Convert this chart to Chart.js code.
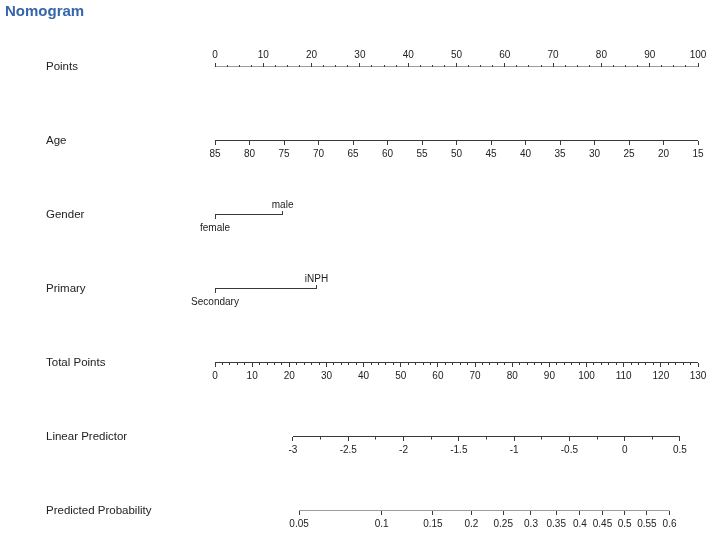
<!DOCTYPE html>
<html>
<head>
<meta charset="utf-8">
<script src="https://cdn.jsdelivr.net/npm/chart.js@4.4.1/dist/chart.umd.min.js"></script>
<style>
  body { margin: 0; background: #fff; }
  #wrap { position: relative; width: 714px; height: 534px; }
  #title { position: absolute; left: 5px; top: 2px; font: bold 15px "Liberation Sans", Arial, sans-serif; color: #3565aa; }
</style>
</head>
<body>
<div id="wrap">
  <canvas id="nomo"></canvas>
  <div id="title">Nomogram</div>
</div>
<script>
// rows of the nomogram, top to bottom
const rowNames = ['Points', 'Age', 'Gender', 'Primary', 'Total Points', 'Linear Predictor', 'Predicted Probability'];

// scale ticks
const pointTicks = [0, 10, 20, 30, 40, 50, 60, 70, 80, 90, 100];
const ageTicks = [85, 80, 75, 70, 65, 60, 55, 50, 45, 40, 35, 30, 25, 20, 15];
const totalTicks = [0, 10, 20, 30, 40, 50, 60, 70, 80, 90, 100, 110, 120, 130];
const lpTicks = [-3, -2.5, -2, -1.5, -1, -0.5, 0, 0.5];
const probTicks = [0.05, 0.1, 0.15, 0.2, 0.25, 0.3, 0.35, 0.4, 0.45, 0.5, 0.55, 0.6];

// categorical predictors: level names and their points
const genderLevels = ['female', 'male'];
const genderPoints = [0, 14];
const primaryLevels = ['Secondary', 'iNPH'];
const primaryPoints = [0, 21];

// total points -> linear predictor
const lpIntercept = -3.705;
const lpPerPoint = 0.0336;

const FONT = '"Liberation Sans", Arial, sans-serif';
const INK = '#3a3a3a';
const TXT = '#222';

const logit = p => Math.log(p / (1 - p));

// an axis drawn at one row, ticks given explicitly
function rowAxis(row, min, max, values, labels, tickLen, pad, extra) {
  return Object.assign({
    type: 'linear', axis: 'x', position: { y: row }, min: min, max: max,
    afterBuildTicks: s => { s.ticks = values.map(v => ({ value: v })); },
    grid: { display: true, drawOnChartArea: false, drawTicks: true, tickLength: tickLen, tickColor: INK, tickWidth: 1 },
    border: { display: false },
    ticks: {
      autoSkip: false, maxRotation: 0, minRotation: 0, color: TXT,
      font: { size: 10, family: FONT },
      padding: pad,
      callback: v => labels ? String(labels[values.indexOf(v)]) : ''
    }
  }, extra || {});
}

// minor ticks without labels
function minorAxis(row, min, max, step, lo, hi, tickLen) {
  return {
    type: 'linear', axis: 'x', position: { y: row }, min: min, max: max,
    afterBuildTicks: s => { s.ticks = s.ticks.filter(t => t.value >= lo - 1e-9 && t.value <= hi + 1e-9); },
    grid: { display: true, drawOnChartArea: false, drawTicks: true, tickLength: tickLen, tickColor: INK, tickWidth: 1 },
    border: { display: false },
    ticks: { stepSize: step, maxTicksLimit: 1000, autoSkip: false, maxRotation: 0, minRotation: 0, callback: () => '' }
  };
}

const lpMin = lpIntercept;
const lpMax = lpIntercept + lpPerPoint * totalTicks[totalTicks.length - 1];
const probValues = probTicks.map(logit);

function line(axisId, row, from, to) {
  return {
    xAxisID: axisId, yAxisID: 'y',
    data: [{ x: from, y: row }, { x: to, y: row }],
    showLine: true, pointRadius: 0, borderColor: INK, borderWidth: 1
  };
}

const datasets = [
  line('x', 0, pointTicks[0], pointTicks[pointTicks.length - 1]),
  line('age', 1, ageTicks[0], ageTicks[ageTicks.length - 1]),
  line('x', 2, genderPoints[0], genderPoints[1]),
  line('x', 3, primaryPoints[0], primaryPoints[1]),
  line('total', 4, totalTicks[0], totalTicks[totalTicks.length - 1]),
  line('lp', 5, lpTicks[0], lpTicks[lpTicks.length - 1]),
  line('prob', 6, probValues[0], probValues[probValues.length - 1])
];

const BELOW = 4;

new Chart(document.getElementById('nomo'), {
  type: 'scatter',
  data: { datasets: datasets },
  options: {
    responsive: true,
    maintainAspectRatio: false,
    animation: false,
    layout: { padding: { left: 46, right: 16, top: 66.5, bottom: 23.5 } },
    plugins: { legend: { display: false }, tooltip: { enabled: false } },
    scales: {
      y: {
        type: 'linear', position: 'left', min: 0, max: 6, reverse: true,
        afterBuildTicks: s => { s.ticks = rowNames.map((n, i) => ({ value: i })); },
        afterFit: s => { s.width = 169; },
        grid: { display: false }, border: { display: false },
        ticks: { crossAlign: 'far', color: TXT, font: { size: 11.5, family: FONT }, callback: v => rowNames[v] }
      },
      x: rowAxis(0, 0, 100, pointTicks, pointTicks, -4, -13.5),
      xMinor: minorAxis(0, 0, 100, 2.5, 0, 100, -2),
      age: rowAxis(1, 15, 85, ageTicks, ageTicks, 4, BELOW, { reverse: true }),
      genF: rowAxis(2, 0, 100, [genderPoints[0]], [genderLevels[0]], 4, BELOW),
      genM: rowAxis(2, 0, 100, [genderPoints[1]], [genderLevels[1]], -4, -11.5),
      priS: rowAxis(3, 0, 100, [primaryPoints[0]], [primaryLevels[0]], 4, BELOW),
      priI: rowAxis(3, 0, 100, [primaryPoints[1]], [primaryLevels[1]], -4, -11.5),
      total: rowAxis(4, 0, 130, totalTicks, totalTicks, 4, BELOW),
      totalMinor: minorAxis(4, 0, 130, 2, 0, 130, 2),
      lp: rowAxis(5, lpMin, lpMax, lpTicks, lpTicks, 4, BELOW),
      lpMinor: minorAxis(5, lpMin, lpMax, 0.25, lpTicks[0], lpTicks[lpTicks.length - 1], 2.5),
      prob: rowAxis(6, lpMin, lpMax, probValues, probTicks, 4, BELOW)
    }
  }
});
</script>
</body>
</html>
